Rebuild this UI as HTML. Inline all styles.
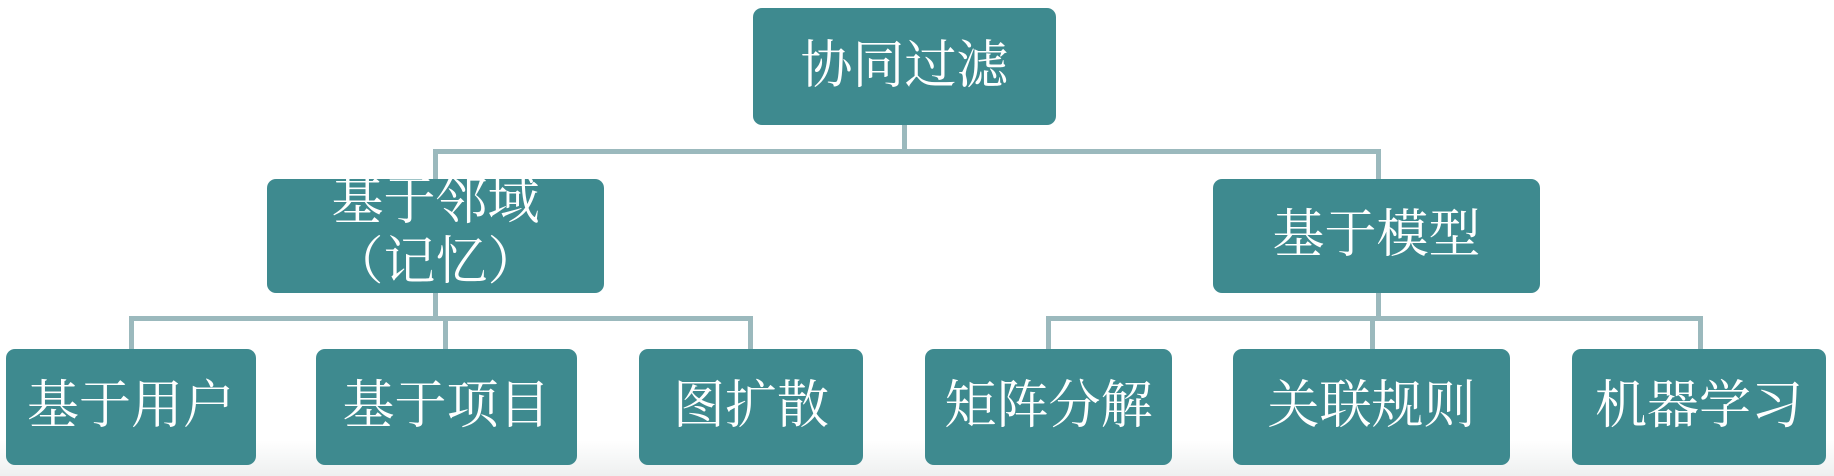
<!DOCTYPE html>
<html><head><meta charset="utf-8"><style>
body{margin:0;width:1834px;height:476px;background:#fff;position:relative;overflow:hidden;font-family:"Liberation Serif","Noto Serif CJK SC",serif}
.b{position:absolute;background:#3e8a8f;border-radius:9px;color:#fff;display:flex;align-items:center;justify-content:center;text-align:center;font-size:52px;line-height:58px}
.l{position:absolute;background:#9bb9bd}
.sh{position:absolute;left:0;top:440px;width:1834px;height:36px;background:linear-gradient(#fff,#eef0f0)}
</style></head><body>
<div class="sh"></div>
<div class="l" style="left:902px;top:125px;width:5px;height:27px"></div>
<div class="l" style="left:433px;top:149px;width:948px;height:5px"></div>
<div class="l" style="left:433px;top:149px;width:5px;height:30px"></div>
<div class="l" style="left:1376px;top:149px;width:5px;height:30px"></div>
<div class="b" style="left:753px;top:8px;width:303px;height:117px">协同过滤</div>
<div class="b" style="left:267px;top:179px;width:337px;height:114px;line-height:60px;padding-bottom:6px;box-sizing:border-box">基于邻域<br>（记忆）</div>
<div class="b" style="left:1213px;top:179px;width:327px;height:114px">基于模型</div>
<div class="l" style="left:433px;top:293px;width:5px;height:25px"></div>
<div class="l" style="left:1376px;top:293px;width:5px;height:25px"></div>
<div class="l" style="left:129px;top:316px;width:624px;height:5px"></div>
<div class="l" style="left:1046px;top:316px;width:657px;height:5px"></div>
<div class="l" style="left:129px;top:316px;width:5px;height:33px"></div>
<div class="l" style="left:443px;top:316px;width:5px;height:33px"></div>
<div class="l" style="left:748px;top:316px;width:5px;height:33px"></div>
<div class="l" style="left:1046px;top:316px;width:5px;height:33px"></div>
<div class="l" style="left:1370px;top:316px;width:5px;height:33px"></div>
<div class="l" style="left:1698px;top:316px;width:5px;height:33px"></div>
<div class="b" style="left:6px;top:349px;width:250px;height:116px">基于用户</div>
<div class="b" style="left:316px;top:349px;width:261px;height:116px">基于项目</div>
<div class="b" style="left:639px;top:349px;width:224px;height:116px">图扩散</div>
<div class="b" style="left:925px;top:349px;width:247px;height:116px">矩阵分解</div>
<div class="b" style="left:1233px;top:349px;width:277px;height:116px">关联规则</div>
<div class="b" style="left:1572px;top:349px;width:254px;height:116px">机器学习</div>
</body></html>
